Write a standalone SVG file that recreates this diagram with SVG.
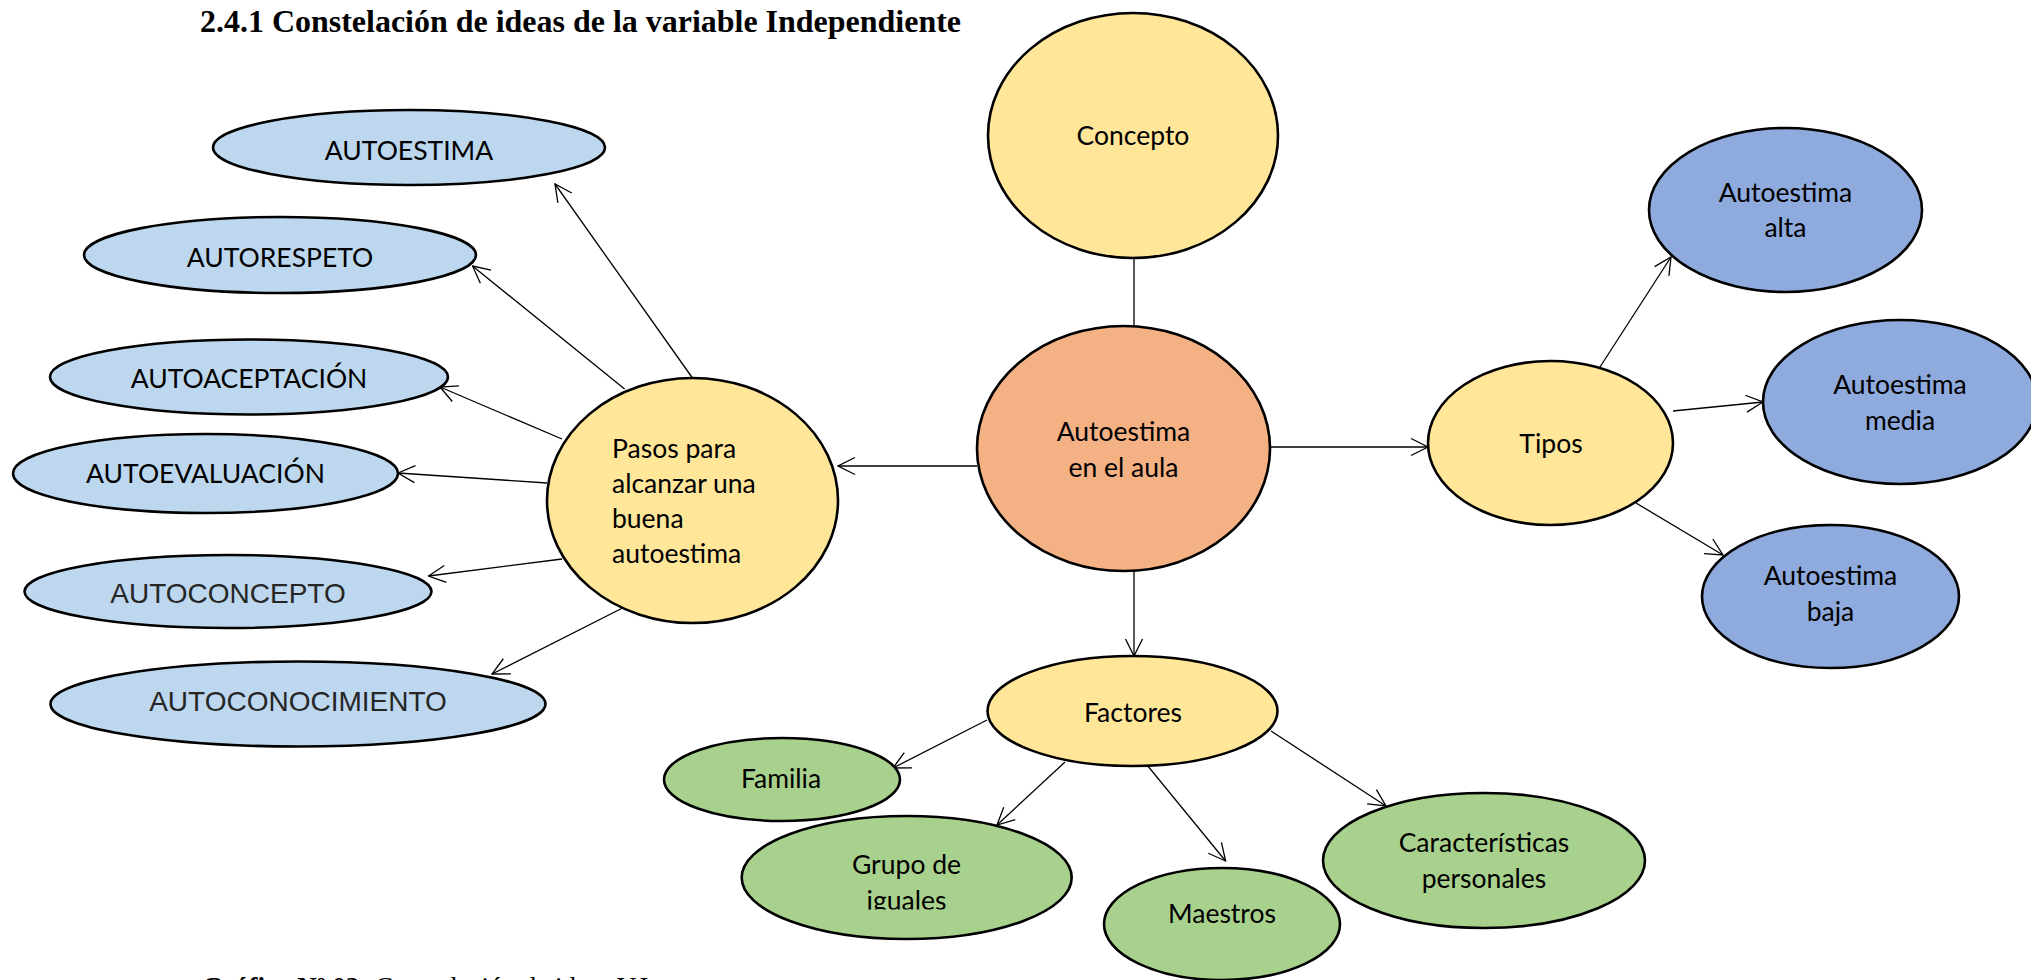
<svg xmlns="http://www.w3.org/2000/svg" width="2031" height="980" viewBox="0 0 2031 980">
<style>
  .n { stroke:#000; stroke-width:2.6; }
  .lb { fill:#BDD7EE; }
  .yl { fill:#FFE699; }
  .or { fill:#F4B183; }
  .bl { fill:#8FAADC; }
  .gr { fill:#A9D18E; }
  .t { font-family:Lato, "Noto Sans", sans-serif; font-size:26.5px; fill:#000; text-anchor:middle; }
  .ta { font-family:"Liberation Sans", Arial, sans-serif; font-size:28px; fill:#262626; text-anchor:middle; }
  .c line { stroke:#000; stroke-width:1.3; fill:none; }
  .ttl { font-family:"Liberation Serif", "Times New Roman", serif; font-weight:bold; font-size:32px; fill:#000; }
  .cap { font-family:"Liberation Serif", "Times New Roman", serif; font-size:27px; fill:#000; }
</style>
<defs>
  <marker id="arr" markerWidth="20" markerHeight="20" refX="19" refY="10" orient="auto" markerUnits="userSpaceOnUse" viewBox="0 0 20 20">
    <path d="M2,1.5 L19,10 L2,18.5" fill="none" stroke="#000" stroke-width="1.3"/>
  </marker>
  <clipPath id="clipG"><rect x="740" y="810" width="340" height="99.5"/></clipPath>
</defs>
<rect width="2031" height="980" fill="#fff"/>
<text class="ttl" x="200" y="31.7" textLength="761" lengthAdjust="spacingAndGlyphs">2.4.1 Constelación de ideas de la variable Independiente</text>

<g class="c" id="connectors">
  <line x1="1134" y1="258" x2="1134" y2="326"/>
  <line x1="977" y1="466" x2="838" y2="466" marker-end="url(#arr)"/>
  <line x1="1270" y1="447" x2="1428" y2="447" marker-end="url(#arr)"/>
  <line x1="1134" y1="571" x2="1134" y2="656" marker-end="url(#arr)"/>
  <line x1="696" y1="383" x2="555" y2="184" marker-end="url(#arr)"/>
  <line x1="624.6" y1="389" x2="472.5" y2="266" marker-end="url(#arr)"/>
  <line x1="562" y1="439" x2="440" y2="387" marker-end="url(#arr)"/>
  <line x1="547" y1="483" x2="398" y2="473" marker-end="url(#arr)"/>
  <line x1="562" y1="559" x2="428.5" y2="576" marker-end="url(#arr)"/>
  <line x1="626.5" y1="606" x2="492" y2="674" marker-end="url(#arr)"/>
  <line x1="1600" y1="367" x2="1671" y2="257" marker-end="url(#arr)"/>
  <line x1="1673" y1="411" x2="1763" y2="402" marker-end="url(#arr)"/>
  <line x1="1636" y1="503" x2="1723" y2="555" marker-end="url(#arr)"/>
  <line x1="987" y1="720" x2="893" y2="768" marker-end="url(#arr)"/>
  <line x1="1065" y1="762" x2="997" y2="825" marker-end="url(#arr)"/>
  <line x1="1144.6" y1="762" x2="1225.6" y2="861" marker-end="url(#arr)"/>
  <line x1="1271" y1="731" x2="1386" y2="806" marker-end="url(#arr)"/>
</g>

<g id="n-autoestima">
  <ellipse class="n lb" cx="409" cy="147.5" rx="196" ry="37.5"/>
  <text class="t" x="409" y="160">AUTOESTIMA</text>
</g>
<g id="n-autorespeto">
  <ellipse class="n lb" cx="280" cy="255" rx="196" ry="38"/>
  <text class="t" x="280" y="267">AUTORESPETO</text>
</g>
<g id="n-autoaceptacion">
  <ellipse class="n lb" cx="249" cy="377" rx="199" ry="37.5"/>
  <text class="t" x="249" y="388">AUTOACEPTACIÓN</text>
</g>
<g id="n-autoevaluacion">
  <ellipse class="n lb" cx="205.5" cy="473.5" rx="192.5" ry="39.5"/>
  <text class="t" x="205.5" y="483">AUTOEVALUACIÓN</text>
</g>
<g id="n-autoconcepto">
  <ellipse class="n lb" cx="228" cy="591.5" rx="203.5" ry="36.5"/>
  <text class="ta" x="228" y="603">AUTOCONCEPTO</text>
</g>
<g id="n-autoconocimiento">
  <ellipse class="n lb" cx="298" cy="704" rx="247.5" ry="42.5"/>
  <text class="ta" x="298" y="710.7">AUTOCONOCIMIENTO</text>
</g>
<g id="n-pasos">
  <ellipse class="n yl" cx="692.5" cy="500.5" rx="145.5" ry="122.5"/>
  <text class="t" style="text-anchor:start" x="612" y="458">Pasos para</text>
  <text class="t" style="text-anchor:start" x="612" y="493">alcanzar una</text>
  <text class="t" style="text-anchor:start" x="612" y="528">buena</text>
  <text class="t" style="text-anchor:start" x="612" y="563">autoestima</text>
</g>
<g id="n-concepto">
  <ellipse class="n yl" cx="1133" cy="135.5" rx="145" ry="122.5"/>
  <text class="t" x="1133" y="145">Concepto</text>
</g>
<g id="n-aula">
  <ellipse class="n or" cx="1123.5" cy="448.5" rx="146.5" ry="122.5"/>
  <text class="t" x="1123.5" y="440.7">Autoestima</text>
  <text class="t" x="1123.5" y="476.7">en el aula</text>
</g>
<g id="n-tipos">
  <ellipse class="n yl" cx="1550.5" cy="443" rx="122.5" ry="82"/>
  <text class="t" x="1551" y="453">Tipos</text>
</g>
<g id="n-alta">
  <ellipse class="n bl" cx="1785.5" cy="210" rx="136.5" ry="82"/>
  <text class="t" x="1785.5" y="202">Autoestima</text>
  <text class="t" x="1785.5" y="237">alta</text>
</g>
<g id="n-media">
  <ellipse class="n bl" cx="1900" cy="402" rx="137" ry="82"/>
  <text class="t" x="1900" y="394">Autoestima</text>
  <text class="t" x="1900" y="430">media</text>
</g>
<g id="n-baja">
  <ellipse class="n bl" cx="1830.5" cy="596.5" rx="128.5" ry="71.5"/>
  <text class="t" x="1830.5" y="585">Autoestima</text>
  <text class="t" x="1830.5" y="621">baja</text>
</g>
<g id="n-factores">
  <ellipse class="n yl" cx="1132.5" cy="711" rx="145" ry="55"/>
  <text class="t" x="1133" y="722">Factores</text>
</g>
<g id="n-familia">
  <ellipse class="n gr" cx="782" cy="779.5" rx="118" ry="41.5"/>
  <text class="t" x="781" y="788">Familia</text>
</g>
<g id="n-grupo">
  <ellipse class="n gr" cx="906.7" cy="877.5" rx="165" ry="61.5"/>
  <text class="t" x="906.5" y="874">Grupo de</text>
  <text class="t" x="906.5" y="910" clip-path="url(#clipG)">iguales</text>
</g>
<g id="n-maestros">
  <ellipse class="n gr" cx="1222" cy="924" rx="118" ry="56"/>
  <text class="t" x="1222" y="923">Maestros</text>
</g>
<g id="n-caracteristicas">
  <ellipse class="n gr" cx="1484" cy="860.5" rx="161" ry="67.5"/>
  <text class="t" x="1484" y="852">Características</text>
  <text class="t" x="1484" y="888">personales</text>
</g>

<text class="cap" x="202" y="996"><tspan font-weight="bold">Gráfico Nº 02:</tspan> Constelación de ideas V.I.</text>
</svg>
